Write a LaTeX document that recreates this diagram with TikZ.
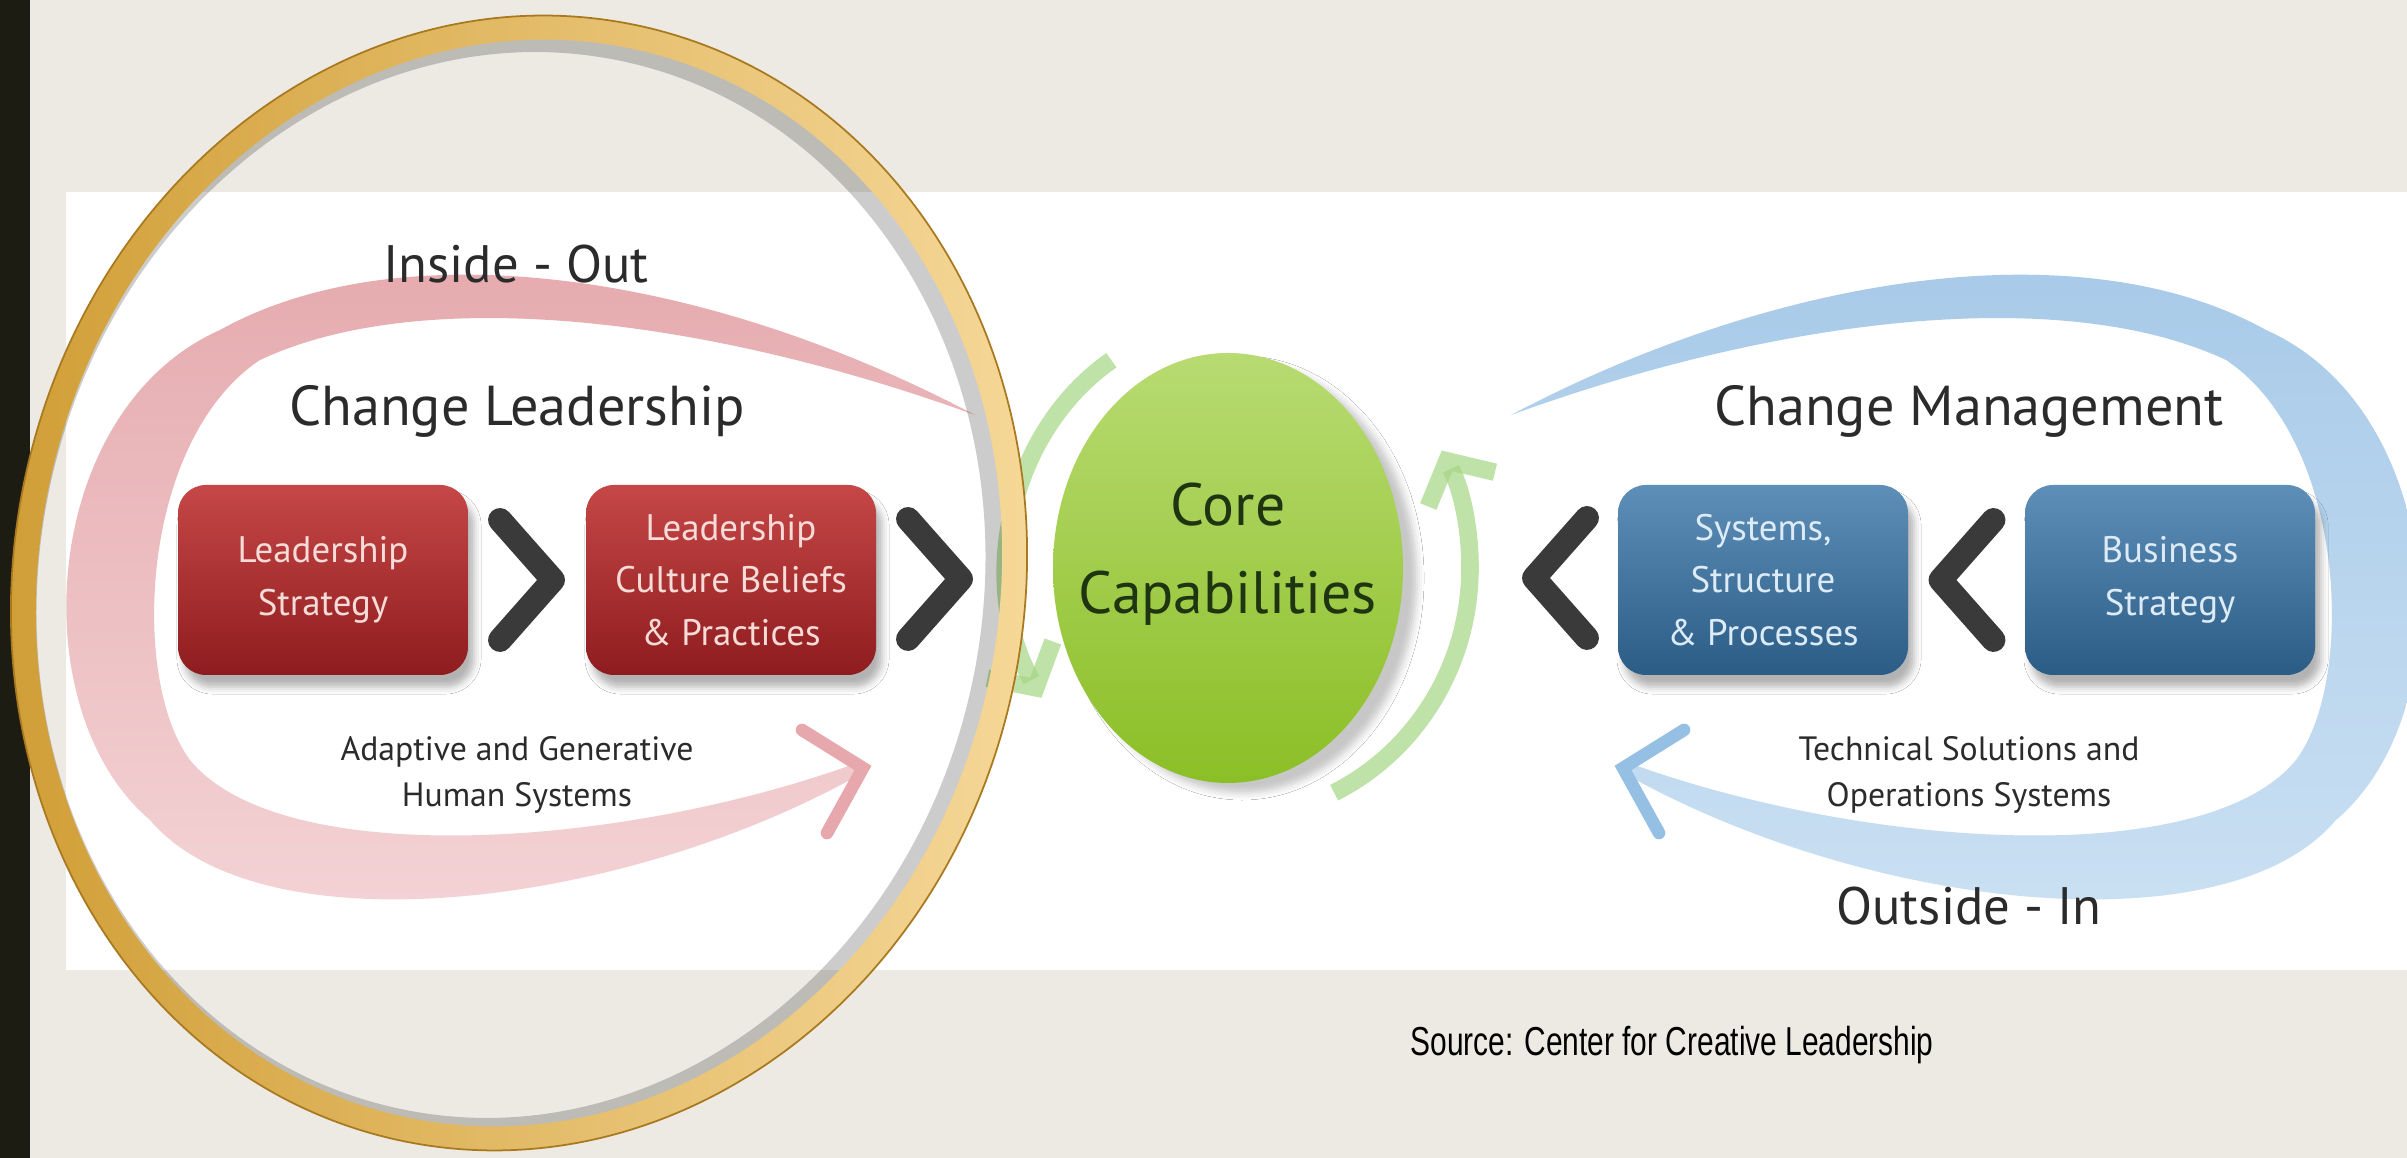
\documentclass[tikz,border=0pt]{standalone}
\usepackage{fontspec}
\setmainfont{PT Sans}
\newfontfamily\srcfont[FakeStretch=0.74]{Liberation Sans}
\usetikzlibrary{arrows.meta,calc,shapes.geometric,shadows.blur}

\definecolor{slidebg}{HTML}{EDEAE3}
\definecolor{barblack}{HTML}{1C1C12}
\definecolor{inktext}{HTML}{2B2B2B}
\definecolor{chevgray}{HTML}{3A3A3A}
\definecolor{lboxtop}{HTML}{C64747}
\definecolor{lboxbot}{HTML}{8E1C1E}
\definecolor{lboxink}{HTML}{F6DCD8}
\definecolor{rboxtop}{HTML}{5E8FB8}
\definecolor{rboxbot}{HTML}{2B5C86}
\definecolor{rboxink}{HTML}{DDEBF6}
\definecolor{coretop}{HTML}{B8DB72}
\definecolor{corebot}{HTML}{8BBF26}
\definecolor{coreink}{HTML}{1F3512}
\definecolor{loopgreen}{HTML}{A4D684}
\definecolor{redswtop}{HTML}{E5A9AD}
\definecolor{redswbot}{HTML}{F4D5D7}
\definecolor{redswhead}{HTML}{E6A8AD}
\definecolor{blueswtop}{HTML}{A6C9E8}
\definecolor{blueswbot}{HTML}{CCE1F3}
\definecolor{blueswhead}{HTML}{96C0E3}
\definecolor{golddark}{HTML}{CF9C33}
\definecolor{goldlight}{HTML}{F7DA9C}
\definecolor{goldedge}{HTML}{A9791F}

% swoosh band, drawn round the origin (tail at upper right, head at lower right)
\newcommand{\swooshpath}{(4.58,1.65)
  .. controls (1.83,3.10) and (-1.17,3.50) .. (-2.97,2.50)
  .. controls (-4.77,1.70) and (-4.97,-1.30) .. (-3.67,-2.40)
  .. controls (-2.57,-3.70) and (1.00,-3.30) .. (3.42,-1.95)
  -- (3.40,-1.83)
  .. controls (1.00,-2.70) and (-2.37,-2.90) .. (-3.27,-1.80)
  .. controls (-3.87,-1.00) and (-3.77,1.40) .. (-2.57,2.20)
  .. controls (-0.97,2.95) and (1.83,2.65) .. (4.58,1.65) -- cycle}

\tikzset{
  stepbox/.style={rectangle, rounded corners=0.28cm, minimum width=2.9cm, minimum height=1.9cm,
    inner sep=0pt, align=center, font=\fontsize{10.5}{15}\selectfont,
    blur shadow={shadow xshift=0.06cm, shadow yshift=-0.12cm, shadow opacity=30}},
  lbox/.style={stepbox, top color=lboxtop, bottom color=lboxbot, text=lboxink},
  rbox/.style={stepbox, top color=rboxtop, bottom color=rboxbot, text=rboxink},
  chev/.style={draw=chevgray, line width=6.8pt, line cap=round, line join=round},
  sidetitle/.style={text=inktext, font=\fontsize{16}{19}\selectfont},
  flowtitle/.style={text=inktext, font=\fontsize{15}{18}\selectfont},
  sidenote/.style={text=inktext, align=center, font=\fontsize{9.6}{13.2}\selectfont},
  swhead/.style={line width=3.6pt, line cap=round, line join=miter},
  coreloop/.style={draw=loopgreen, opacity=0.7, line width=5pt,
    -{Straight Barb[length=0.32cm, width=0.75cm]}},
  core/.style={ellipse, minimum width=3.5cm, minimum height=4.3cm, inner sep=0pt,
    top color=coretop, bottom color=corebot,
    blur shadow={shadow xshift=0.14cm, shadow yshift=-0.10cm, shadow opacity=22}},
  coretext/.style={text=coreink, align=center, font=\fontsize{17}{25}\selectfont}
}

\begin{document}
\begin{tikzpicture}
%%%%%%%%%%%%%%%%%%%%%%%%%%%%%%%%%%%%%%%%%%% HELP LINES
%\draw[help lines] (0,0) grid +(24,11);
\useasboundingbox (0,0) rectangle (24.07,11.58);

%%%%%%%%%%%%%%%%%%%%%%%%%%%%%%%%%%%%%%%%%%% slide and panel
\fill[slidebg] (0,0) rectangle (24.07,11.58);
\fill[barblack] (0,0) rectangle (0.30,11.58);
\fill[white] (0.66,1.88) rectangle (24.07,9.66);

%%%%%%%%%%%%%%%%%%%%%%%%%%%%%%%%%%%%%%%%%%% swooshes
\begin{scope}[shift={(5.17,5.78)}]
\shade[top color=redswtop, bottom color=redswbot] \swooshpath;
\draw[swhead, draw=redswhead] (2.85,-1.50) -- (3.46,-1.88) -- (3.10,-2.53);
\end{scope}
\begin{scope}
\clip (0.66,1.88) rectangle (24.07,9.66);
\begin{scope}[shift={(19.69,5.78)}, xscale=-1]
\shade[top color=blueswtop, bottom color=blueswbot] \swooshpath;
\draw[swhead, draw=blueswhead] (2.85,-1.50) -- (3.46,-1.88) -- (3.10,-2.53);
\end{scope}
\end{scope}

%%%%%%%%%%%%%%%%%%%%%%%%%%%%%%%%%%%%%%%%%%% core capabilities
\coordinate (cc) at (12.28,5.90);
\draw[coreloop] (cc) ++(122:2.2 and 2.45) arc[start angle=122, end angle=212, x radius=2.2, y radius=2.45];
\draw[coreloop] (cc) ++(-64:2.42 and 2.5) arc[start angle=-64, end angle=28, x radius=2.42, y radius=2.5];
\node[core] (core) at (cc) {};
\node[coretext] (corelabel) at ($(cc)+(0,0.14)$) {Core\\Capabilities};

%%%%%%%%%%%%%%%%%%%%%%%%%%%%%%%%%%%%%%%%%%% boxes
\node[lbox] (ls) at (3.23,5.78) {Leadership\\Strategy};
\node[lbox] (lc) at (7.31,5.78) {Leadership\\Culture Beliefs\\\& Practices};
\node[rbox] (ssp) at (17.63,5.78) {Systems,\\Structure\\\& Processes};
\node[rbox] (bs) at (21.70,5.78) {Business\\Strategy};

%%%%% chevrons
\coordinate (ch1) at ($(ls.east)!0.5!(lc.west)$);
\coordinate (ch2) at (9.35,5.79);
\coordinate (ch3) at (15.60,5.80);
\coordinate (ch4) at ($(ssp.east)!0.5!(bs.west)$);
\draw[chev] (ch1) ++(-0.27,0.6) -- ++(0.53,-0.6) -- ++(-0.53,-0.6);
\draw[chev] (ch2) ++(-0.27,0.6) -- ++(0.53,-0.6) -- ++(-0.53,-0.6);
\draw[chev] (ch3) ++(0.27,0.6) -- ++(-0.53,-0.6) -- ++(0.53,-0.6);
\draw[chev] (ch4) ++(0.27,0.6) -- ++(-0.53,-0.6) -- ++(0.53,-0.6);

%%%%% titles and notes
\node[flowtitle] (insideout) at (5.16,8.94) {Inside - Out};
\node[sidetitle] (leadtitle) at (5.17,7.47) {Change Leadership};
\node[sidenote] (leadnote) at (5.17,3.83) {Adaptive and Generative\\Human Systems};
\node[sidetitle] (mgmttitle) at (19.69,7.47) {Change Management};
\node[sidenote] (mgmtnote) at (19.69,3.83) {Technical Solutions and\\Operations Systems};
\node[flowtitle] (outsidein) at (19.69,2.52) {Outside - In};

%%%%%%%%%%%%%%%%%%%%%%%%%%%%%%%%%%%%%%%%%%% gold ring
\draw[black, opacity=0.2, line width=6pt, rotate around={-12:(5.11,5.73)}] (5.11,5.73) ellipse (4.82 and 5.46);
\shade[left color=golddark, right color=goldlight, even odd rule, rotate around={-12:(5.19,5.75)}]
  (5.19,5.75) ellipse (5.05 and 5.70) (5.19,5.75) ellipse (4.80 and 5.46);
\draw[goldedge, line width=0.5pt, rotate around={-12:(5.19,5.75)}] (5.19,5.75) ellipse (5.05 and 5.70);

%%%%% source
\node[text=black, font=\srcfont\fontsize{11.5}{13}\selectfont] (src) at (16.72,1.13) {Source: Center for Creative Leadership};
\end{tikzpicture}
\end{document}
